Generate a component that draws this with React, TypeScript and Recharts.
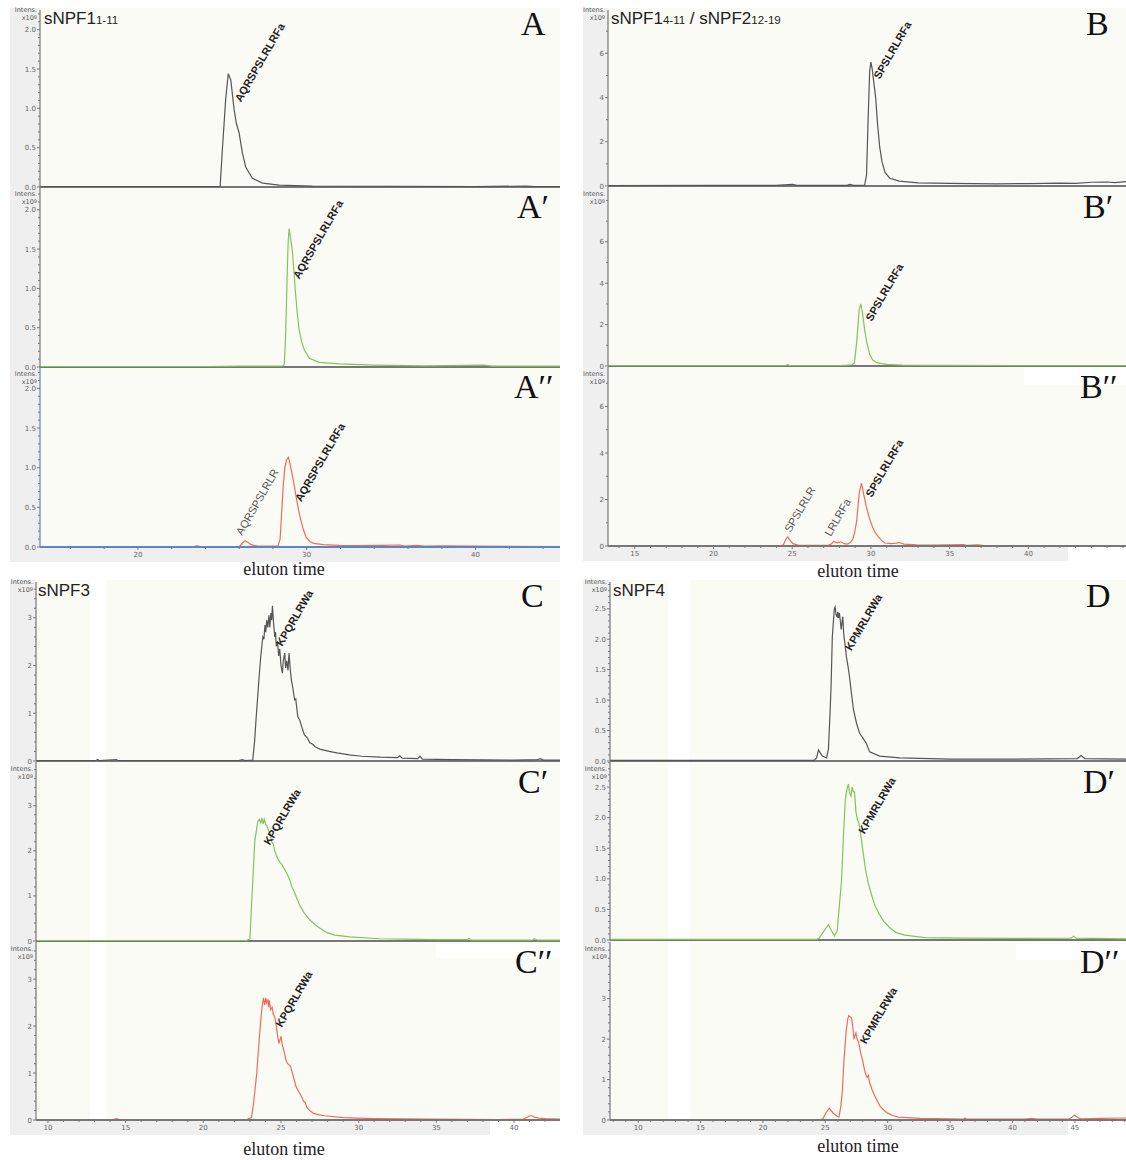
import React from "react";
import { LineChart, Line, XAxis, YAxis, ReferenceLine, ReferenceDot } from "recharts";

type Pt = [number, number];
type Peak = { text: string; t: number; v: number; main: boolean };

// elution time (min) vs intensity (x10^9)
const aTrace: Pt[] = [
  [14.2, 0.004], [20, 0.004], [24.8, 0.004], [24.87, 0.01], [25.0, 0.47], [25.2, 1.12], [25.35, 1.44],
  [25.5, 1.36], [25.7, 0.98], [25.83, 0.81], [25.99, 0.69], [26.19, 0.43], [26.39, 0.25], [26.78, 0.11],
  [27.38, 0.05], [28.37, 0.025], [30.33, 0.012], [35, 0.008], [40, 0.006], [43, 0.012], [43.5, 0.005], [45, 0.005],
];
const aPrimeTrace: Pt[] = [
  [14.2, 0.005], [24, 0.005], [26, 0.01], [28.55, 0.01], [28.67, 0.03], [28.75, 0.4], [28.83, 1.1], [28.9, 1.6],
  [28.96, 1.76], [29.05, 1.62], [29.14, 1.49], [29.23, 1.25], [29.32, 0.98], [29.43, 0.7], [29.55, 0.47],
  [29.7, 0.32], [29.85, 0.22], [30.15, 0.11], [30.74, 0.06], [31.93, 0.04], [34, 0.025], [37, 0.015],
  [40.5, 0.025], [41, 0.012], [45, 0.01],
];
const aDoublePrimeTrace: Pt[] = [
  [14.2, 0.005], [23.3, 0.005], [23.5, 0.015], [23.7, 0.005], [26.0, 0.005], [26.2, 0.05], [26.33, 0.08],
  [26.5, 0.06], [26.7, 0.03], [27.1, 0.01], [28.3, 0.01], [28.42, 0.1], [28.52, 0.45], [28.6, 0.75], [28.7, 1.0],
  [28.8, 1.1], [28.92, 1.13], [29.05, 1.0], [29.2, 0.85], [29.34, 0.67], [29.5, 0.48], [29.66, 0.33], [29.8, 0.22],
  [29.97, 0.12], [30.2, 0.07], [30.4, 0.045], [31.0, 0.03], [31.9, 0.02], [33, 0.018], [34.5, 0.02], [35.5, 0.025],
  [35.8, 0.012], [36.5, 0.02], [37, 0.01], [38, 0.015], [40, 0.01], [45, 0.005],
];

const bTrace: Pt[] = [
  [13.3, 0.02], [20, 0.03], [24, 0.03], [25, 0.07], [25.3, 0.03], [28.5, 0.03], [28.65, 0.07], [28.9, 0.03],
  [29.6, 0.04], [29.72, 0.5], [29.82, 3.0], [29.92, 5.2], [30.0, 5.6], [30.08, 5.3], [30.18, 4.7], [30.3, 4.0],
  [30.42, 2.8], [30.55, 1.8], [30.7, 1.1], [30.9, 0.6], [31.2, 0.35], [31.8, 0.22], [33, 0.14], [35, 0.12],
  [38, 0.1], [40, 0.11], [42, 0.13], [43, 0.12], [44, 0.17], [45, 0.18], [45.5, 0.15], [46.2, 0.2],
];
const bPrimeTrace: Pt[] = [
  [13.3, 0.02], [24.6, 0.02], [24.7, 0.06], [24.85, 0.02], [28.0, 0.02], [28.5, 0.04], [28.8, 0.06], [28.95, 0.15],
  [29.1, 1.2], [29.25, 2.7], [29.35, 3.0], [29.45, 2.65], [29.6, 1.75], [29.75, 1.1], [29.9, 0.6], [30.1, 0.3],
  [30.4, 0.15], [31, 0.08], [32, 0.04], [34, 0.03], [40, 0.02], [46.2, 0.02],
];
const bDoublePrimeTrace: Pt[] = [
  [13.3, 0.02], [24.3, 0.02], [24.44, 0.05], [24.6, 0.3], [24.71, 0.39], [24.85, 0.25], [25.05, 0.1], [25.4, 0.03],
  [27.3, 0.03], [27.5, 0.1], [27.63, 0.2], [27.85, 0.14], [28.08, 0.18], [28.3, 0.1], [28.5, 0.08], [28.7, 0.15],
  [28.85, 0.3], [28.97, 0.6], [29.1, 1.1], [29.26, 2.3], [29.4, 2.7], [29.55, 2.2], [29.7, 1.7], [29.9, 1.2],
  [30.1, 0.82], [30.3, 0.55], [30.47, 0.39], [30.7, 0.22], [30.9, 0.13], [31.3, 0.1], [31.6, 0.12], [31.8, 0.15],
  [32.1, 0.08], [32.9, 0.05], [34, 0.04], [35.85, 0.06], [36.1, 0.03], [36.8, 0.05], [37.2, 0.02], [40, 0.02], [46.2, 0.02],
];

const cTrace: Pt[] = [
  [9.2, 0.01], [13.1, 0.01], [13.2, 0.03], [13.3, 0.01], [14.4, 0.03], [14.5, 0.01], [22.3, 0.01], [22.5, 0.03],
  [22.7, 0.01], [23.18, 0.02], [23.3, 0.4], [23.4, 0.9], [23.5, 1.34], [23.6, 1.8], [23.7, 2.2], [23.83, 2.6],
  [23.9, 2.55], [23.97, 2.85], [24.02, 2.7], [24.08, 2.95], [24.15, 2.8], [24.22, 3.05], [24.28, 2.8], [24.35, 3.1],
  [24.4, 2.95], [24.45, 3.25], [24.52, 2.9], [24.6, 2.6], [24.65, 2.7], [24.7, 2.4], [24.78, 2.5], [24.85, 2.2],
  [24.92, 2.35], [25.0, 2.0], [25.09, 1.84], [25.15, 2.1], [25.24, 2.26], [25.3, 1.95], [25.37, 2.1], [25.45, 1.9],
  [25.52, 2.26], [25.6, 1.9], [25.67, 1.7], [25.75, 1.55], [25.88, 1.28], [25.95, 1.3], [26.08, 0.93], [26.2, 0.86],
  [26.35, 0.7], [26.5, 0.55], [26.7, 0.48], [26.85, 0.38], [27.0, 0.36], [27.2, 0.3], [27.5, 0.25], [28.1, 0.2],
  [28.6, 0.17], [29.4, 0.13], [30.2, 0.1], [31.4, 0.08], [32.5, 0.07], [32.65, 0.11], [32.8, 0.06], [33.8, 0.05],
  [33.95, 0.1], [34.1, 0.04], [36, 0.03], [38, 0.025], [40, 0.02], [41.5, 0.03], [41.7, 0.05], [41.9, 0.02], [43, 0.02],
];
const cPrimeTrace: Pt[] = [
  [9.2, 0.01], [22.8, 0.01], [23.0, 0.05], [23.12, 0.9], [23.31, 2.2], [23.5, 2.64], [23.6, 2.7], [23.7, 2.62],
  [23.76, 2.73], [23.85, 2.6], [23.92, 2.7], [24.02, 2.58], [24.1, 2.55], [24.2, 2.45], [24.28, 2.4], [24.4, 2.2],
  [24.5, 2.15], [24.6, 2.0], [24.75, 1.85], [24.92, 1.75], [25.05, 1.7], [25.24, 1.58], [25.4, 1.48], [25.56, 1.36],
  [25.7, 1.2], [25.88, 1.07], [26.05, 0.92], [26.2, 0.8], [26.5, 0.62], [26.85, 0.47], [27.2, 0.36], [27.49, 0.29],
  [28, 0.18], [28.46, 0.13], [29.42, 0.09], [31.35, 0.05], [33, 0.04], [35, 0.03], [37.0, 0.03], [37.1, 0.06],
  [37.2, 0.02], [41.2, 0.02], [41.3, 0.05], [41.5, 0.02], [43, 0.02],
];
const cDoublePrimeTrace: Pt[] = [
  [9.2, 0.01], [14.2, 0.01], [14.4, 0.03], [14.6, 0.01], [22.8, 0.01], [23.1, 0.05], [23.25, 0.4], [23.44, 1.0],
  [23.55, 1.5], [23.68, 2.06], [23.78, 2.4], [23.87, 2.6], [23.95, 2.45], [24.02, 2.6], [24.08, 2.5], [24.15, 2.55],
  [24.2, 2.4], [24.25, 2.55], [24.33, 2.35], [24.43, 2.4], [24.5, 2.25], [24.6, 2.2], [24.71, 1.97], [24.8, 1.75],
  [24.87, 1.63], [25.0, 1.78], [25.08, 1.6], [25.17, 1.5], [25.3, 1.3], [25.4, 1.21], [25.5, 1.18], [25.62, 1.14],
  [25.8, 0.92], [25.97, 0.71], [26.15, 0.6], [26.32, 0.5], [26.45, 0.4], [26.55, 0.38], [26.65, 0.28], [26.85, 0.2],
  [27.1, 0.14], [27.45, 0.11], [27.8, 0.09], [29, 0.05], [31, 0.03], [34.4, 0.02], [38.95, 0.01], [40.6, 0.02],
  [40.9, 0.07], [41.1, 0.1], [41.3, 0.06], [41.6, 0.04], [42, 0.03], [43, 0.02],
];

const dTrace: Pt[] = [
  [7.74, 0.01], [24.1, 0.01], [24.3, 0.05], [24.45, 0.18], [24.55, 0.15], [24.76, 0.08], [25.1, 0.05], [25.25, 0.2],
  [25.38, 0.8], [25.46, 1.22], [25.56, 2.04], [25.65, 2.3], [25.72, 2.5], [25.78, 2.53], [25.86, 2.4], [25.94, 2.37],
  [26.0, 2.45], [26.05, 2.35], [26.13, 2.43], [26.2, 2.3], [26.27, 2.16], [26.35, 2.3], [26.4, 2.37], [26.47, 2.1],
  [26.53, 1.99], [26.7, 1.7], [26.82, 1.55], [26.94, 1.38], [27.1, 1.1], [27.26, 0.84], [27.5, 0.62], [27.74, 0.46],
  [28.0, 0.38], [28.28, 0.29], [28.55, 0.15], [29.35, 0.08], [30.97, 0.05], [35, 0.03], [40, 0.03], [45.2, 0.04],
  [45.5, 0.09], [45.8, 0.04], [49.1, 0.03],
];
const dPrimeTrace: Pt[] = [
  [7.74, 0.01], [24.3, 0.01], [24.5, 0.03], [24.9, 0.15], [25.24, 0.25], [25.5, 0.15], [25.73, 0.07], [25.95, 0.15],
  [26.1, 0.5], [26.3, 0.98], [26.45, 1.7], [26.6, 2.29], [26.72, 2.45], [26.85, 2.55], [26.95, 2.4], [27.05, 2.35],
  [27.15, 2.5], [27.25, 2.42], [27.34, 2.42], [27.45, 2.1], [27.58, 1.96], [27.7, 1.9], [27.9, 1.63], [28.05, 1.4],
  [28.23, 1.14], [28.45, 0.92], [28.7, 0.74], [29.0, 0.55], [29.35, 0.41], [29.7, 0.3], [30.16, 0.2], [30.7, 0.12],
  [31.37, 0.08], [33, 0.04], [36, 0.03], [40, 0.025], [44.7, 0.03], [44.9, 0.06], [45.1, 0.03], [49.1, 0.02],
];
const dDoublePrimeTrace: Pt[] = [
  [7.74, 0.01], [24.6, 0.01], [24.8, 0.03], [25.05, 0.18], [25.32, 0.29], [25.6, 0.18], [25.9, 0.1], [26.1, 0.08],
  [26.25, 0.35], [26.37, 0.74], [26.5, 1.5], [26.68, 2.23], [26.8, 2.5], [26.88, 2.58], [26.98, 2.55], [27.1, 2.52],
  [27.2, 2.3], [27.3, 2.0], [27.34, 2.06], [27.45, 2.15], [27.55, 2.0], [27.68, 1.91], [27.8, 1.7], [27.97, 1.49],
  [28.1, 1.3], [28.2, 1.16], [28.35, 1.05], [28.45, 1.1], [28.55, 0.92], [28.75, 0.75], [28.98, 0.58], [29.2, 0.45],
  [29.41, 0.33], [29.7, 0.24], [29.99, 0.17], [30.4, 0.11], [30.85, 0.07], [32.6, 0.04], [36.1, 0.02], [36.2, 0.05],
  [36.3, 0.02], [41, 0.02], [41.5, 0.04], [42, 0.02], [44.6, 0.03], [44.97, 0.12], [45.3, 0.05], [45.5, 0.03],
  [47, 0.04], [49.1, 0.05],
];

// peak annotations (text start, in data units)
const aPeaks: Peak[] = [{ text: "AQRSPSLRLRFa", t: 26.1, v: 1.07, main: true }];
const aPrimePeaks: Peak[] = [{ text: "AQRSPSLRLRFa", t: 29.55, v: 1.11, main: true }];
const aDoublePrimePeaks: Peak[] = [
  { text: "AQRSPSLRLR", t: 26.17, v: 0.14, main: false },
  { text: "AQRSPSLRLRFa", t: 29.67, v: 0.56, main: true },
];
const bPeaks: Peak[] = [{ text: "SPSLRLRFa", t: 30.56, v: 4.8, main: true }];
const bPrimePeaks: Peak[] = [{ text: "SPSLRLRFa", t: 30.05, v: 2.13, main: true }];
const bDoublePrimePeaks: Peak[] = [
  { text: "SPSLRLR", t: 24.9, v: 0.56, main: false },
  { text: "LRLRFa", t: 27.45, v: 0.39, main: false },
  { text: "SPSLRLRFa", t: 30.05, v: 2.07, main: true },
];
const cPeaks: Peak[] = [{ text: "KPQRLRWa", t: 25.09, v: 2.39, main: true }];
const cPrimePeaks: Peak[] = [{ text: "KPQRLRWa", t: 24.28, v: 2.11, main: true }];
const cDoublePrimePeaks: Peak[] = [{ text: "KPQRLRWa", t: 25.05, v: 1.96, main: true }];
const dPeaks: Peak[] = [{ text: "KPMRLRWa", t: 27.07, v: 1.8, main: true }];
const dPrimePeaks: Peak[] = [{ text: "KPMRLRWa", t: 28.15, v: 1.72, main: true }];
const dDoublePrimePeaks: Peak[] = [{ text: "KPMRLRWa", t: 28.26, v: 1.86, main: true }];

// axis tick labels
const xMajorA = [20, 30, 40];
const xMajorB = [15, 20, 25, 30, 35, 40];
const xMajorC = [10, 15, 20, 25, 30, 35, 40];
const xMajorD = [10, 15, 20, 25, 30, 35, 40, 45];
const yMajorA = [0, 0.5, 1, 1.5, 2];
const yMajorB = [0, 2, 4, 6];
const yMajorC = [0, 1, 2, 3];
const yMajorD = [0, 0.5, 1, 1.5, 2, 2.5];

const GRAY_TRACE = "#555555";
const GREEN = "#86c25a";
const RED = "#ef6b5e";
const AXIS = "#777777";
const TICK_FONT = "DejaVu Sans, Verdana, sans-serif";

type RowCfg = {
  trace: Pt[];
  peaks: Peak[];
  color: string;
  yMax: number;
  yMajor: number[];
  yStep: number;
  digits: number;
  letter: string;
  letterX: number;
  top: number;
  base: number;
  axisColor?: string;
};

type GroupCfg = {
  gray: number;
  axis: number;
  right: number;
  top: number;
  stripEnd: number;
  xMin: number;
  xMax: number;
  xMajor: number[];
  xStep: number;
  title: React.ReactNode;
  titleX: number;
  titleY: number;
  xlabelX: number;
  xlabelY: number;
  whiteStrip?: [number, number];
  whiteBoxes: [number, number, number, number][];
  rows: RowCfg[];
};

function range(from: number, to: number, step: number) {
  const out: number[] = [];
  for (let k = Math.ceil(from / step - 1e-9); k * step <= to + 1e-9; k++) {
    out.push(Math.round(k * step * 1000) / 1000);
  }
  return out;
}

const isIn = (list: number[], v: number) => list.some((m) => Math.abs(m - v) < 1e-6);

const yTick = (majors: number[], digits: number) => (p: any) => {
  const v = p.payload.value;
  const major = isIn(majors, v);
  return (
    <g>
      <line x1={p.x - (major ? 3 : 2)} x2={p.x} y1={p.y} y2={p.y} stroke="#777" strokeWidth={1} />
      {major && (
        <text x={p.x - 4} y={p.y + 2.5} textAnchor="end" fontSize={7} fill="#666" fontFamily={TICK_FONT}>
          {v.toFixed(digits)}
        </text>
      )}
    </g>
  );
};

const xTick = (majors: number[]) => (p: any) => {
  const v = p.payload.value;
  const major = isIn(majors, v);
  return (
    <g>
      <line x1={p.x} x2={p.x} y1={p.y} y2={p.y + (major ? 3 : 2)} stroke="#777" strokeWidth={1} />
      {major && (
        <text x={p.x} y={p.y + 10} textAnchor="middle" fontSize={7} fill="#666" fontFamily={TICK_FONT}>
          {v}
        </text>
      )}
    </g>
  );
};

const peakShape = (pk: Peak) => (props: any) => {
  const { cx, cy } = props;
  if (cx == null || cy == null) return <g />;
  return (
    <text
      x={cx}
      y={cy}
      transform={`rotate(-60 ${cx} ${cy})`}
      fontSize={11}
      fontWeight={pk.main ? 700 : 400}
      fill={pk.main ? "#1e1e1e" : "#555"}
      fontFamily="Liberation Sans, Arial, sans-serif"
    >
      {pk.text}
    </text>
  );
};

function Row({ g, r, bottom }: { g: GroupCfg; r: RowCfg; bottom: boolean }) {
  const xAxisH = bottom ? 14 : 0;
  const extra = bottom ? 0 : 5;
  const axisColor = r.axisColor || AXIS;
  const data = r.trace.map(([t, v]) => ({ t, v }));
  return (
    <div style={{ position: "absolute", left: g.gray, top: r.top }}>
      <LineChart
        width={g.right - g.gray}
        height={r.base - r.top + xAxisH + extra}
        data={data}
        margin={{ top: 0, right: 0, bottom: extra, left: 0 }}
      >
        <XAxis
          type="number"
          dataKey="t"
          domain={[g.xMin, g.xMax]}
          allowDataOverflow
          hide={!bottom}
          height={xAxisH}
          ticks={range(g.xMin, g.xMax, g.xStep)}
          interval={0}
          tickSize={0}
          tickMargin={0}
          tickLine={false}
          axisLine={{ stroke: axisColor, strokeWidth: 2 }}
          tick={xTick(g.xMajor)}
        />
        <YAxis
          type="number"
          domain={[0, r.yMax]}
          allowDataOverflow
          width={g.axis - g.gray}
          ticks={range(0, r.yMax, r.yStep)}
          interval={0}
          tickSize={0}
          tickMargin={0}
          tickLine={false}
          axisLine={{ stroke: axisColor, strokeWidth: 1.2 }}
          tick={yTick(r.yMajor, r.digits)}
        />
        <ReferenceLine y={0} stroke={axisColor} strokeWidth={2} />
        <Line
          type="linear"
          dataKey="v"
          stroke={r.color}
          strokeWidth={1.2}
          dot={false}
          isAnimationActive={false}
        />
        {r.peaks.map((pk, i) => (
          <ReferenceDot key={i} x={pk.t} y={pk.v} r={0} ifOverflow="visible" shape={peakShape(pk)} />
        ))}
      </LineChart>
    </div>
  );
}

const small = { fontSize: 11.5 };

const groups: GroupCfg[] = [
  {
    gray: 10, axis: 40, right: 560, top: 8, stripEnd: 560,
    xMin: 14.2, xMax: 45.0, xMajor: xMajorA, xStep: 2,
    title: <>sNPF1<span style={small}>1-11</span></>, titleX: 44, titleY: 11,
    xlabelX: 284, xlabelY: 560, whiteBoxes: [],
    rows: [
      { trace: aTrace, peaks: aPeaks, color: GRAY_TRACE, yMax: 2.25, yMajor: yMajorA, yStep: 0.1, digits: 1, letter: "A", letterX: 521, top: 10, base: 187 },
      { trace: aPrimeTrace, peaks: aPrimePeaks, color: GREEN, yMax: 2.29, yMajor: yMajorA, yStep: 0.1, digits: 1, letter: "A\u2032", letterX: 517, top: 187, base: 367 },
      { trace: aDoublePrimeTrace, peaks: aDoublePrimePeaks, color: RED, yMax: 2.27, yMajor: yMajorA, yStep: 0.1, digits: 1, letter: "A\u2032\u2032", letterX: 514, top: 367, base: 547, axisColor: "#5a86c5" },
    ],
  },
  {
    gray: 583, axis: 608, right: 1126, top: 8, stripEnd: 1068,
    xMin: 13.3, xMax: 46.2, xMajor: xMajorB, xStep: 1,
    title: <>sNPF1<span style={small}>4-11</span> / sNPF2<span style={small}>12-19</span></>, titleX: 611, titleY: 11,
    xlabelX: 858, xlabelY: 562, whiteBoxes: [[1024, 368, 102, 17]],
    rows: [
      { trace: bTrace, peaks: bPeaks, color: GRAY_TRACE, yMax: 7.96, yMajor: yMajorB, yStep: 1, digits: 0, letter: "B", letterX: 1086, top: 10, base: 186 },
      { trace: bPrimeTrace, peaks: bPrimePeaks, color: GREEN, yMax: 8.65, yMajor: yMajorB, yStep: 1, digits: 0, letter: "B\u2032", letterX: 1083, top: 187, base: 366 },
      { trace: bDoublePrimeTrace, peaks: bDoublePrimePeaks, color: RED, yMax: 7.7, yMajor: yMajorB, yStep: 1, digits: 0, letter: "B\u2032\u2032", letterX: 1080, top: 367, base: 546 },
    ],
  },
  {
    gray: 10, axis: 36, right: 560, top: 580, stripEnd: 490,
    xMin: 9.23, xMax: 42.96, xMajor: xMajorC, xStep: 1,
    title: <>sNPF3</>, titleX: 38, titleY: 583,
    xlabelX: 284, xlabelY: 1140, whiteStrip: [90, 106], whiteBoxes: [[436, 944, 124, 14]],
    rows: [
      { trace: cTrace, peaks: cPeaks, color: GRAY_TRACE, yMax: 3.75, yMajor: yMajorC, yStep: 0.2, digits: 0, letter: "C", letterX: 521, top: 582, base: 761 },
      { trace: cPrimeTrace, peaks: cPrimePeaks, color: GREEN, yMax: 3.97, yMajor: yMajorC, yStep: 0.2, digits: 0, letter: "C\u2032", letterX: 518, top: 762, base: 941 },
      { trace: cDoublePrimeTrace, peaks: cDoublePrimePeaks, color: RED, yMax: 3.79, yMajor: yMajorC, yStep: 0.2, digits: 0, letter: "C\u2032\u2032", letterX: 515, top: 942, base: 1120 },
    ],
  },
  {
    gray: 583, axis: 610, right: 1126, top: 580, stripEnd: 1068,
    xMin: 7.74, xMax: 49.1, xMajor: xMajorD, xStep: 1,
    title: <>sNPF4</>, titleX: 613, titleY: 583,
    xlabelX: 858, xlabelY: 1137, whiteStrip: [668, 690], whiteBoxes: [[1016, 944, 110, 16]],
    rows: [
      { trace: dTrace, peaks: dPeaks, color: GRAY_TRACE, yMax: 2.94, yMajor: yMajorD, yStep: 0.1, digits: 1, letter: "D", letterX: 1086, top: 582, base: 761 },
      { trace: dPrimeTrace, peaks: dPrimePeaks, color: GREEN, yMax: 2.91, yMajor: yMajorD, yStep: 0.1, digits: 1, letter: "D\u2032", letterX: 1083, top: 762, base: 940 },
      { trace: dDoublePrimeTrace, peaks: dDoublePrimePeaks, color: RED, yMax: 4.4, yMajor: yMajorC, yStep: 0.2, digits: 0, letter: "D\u2032\u2032", letterX: 1080, top: 942, base: 1120 },
    ],
  },
];

function Group({ g }: { g: GroupCfg }) {
  const last = g.rows[g.rows.length - 1];
  const abs = (l: number, t: number, w: number, h: number, bg: string) => (
    <div style={{ position: "absolute", left: l, top: t, width: w, height: h, background: bg }} />
  );
  return (
    <>
      {abs(g.gray, g.top, g.axis - g.gray, last.base + 15 - g.top, "#efefef")}
      {abs(g.gray, last.base, g.stripEnd - g.gray, 15, "#efefef")}
      {abs(g.axis, g.top, g.right - g.axis, last.base - g.top, "#fbfbf6")}
      {g.whiteStrip && abs(g.whiteStrip[0], g.top, g.whiteStrip[1] - g.whiteStrip[0], last.base - g.top, "#fff")}
      {g.whiteBoxes.map((b, i) => (
        <React.Fragment key={i}>{abs(b[0], b[1], b[2], b[3], "#fff")}</React.Fragment>
      ))}
      {g.rows.map((r, i) => (
        <Row key={i} g={g} r={r} bottom={i === g.rows.length - 1} />
      ))}
      {g.rows.map((r, i) => (
        <div
          key={"in" + i}
          style={{
            position: "absolute", left: g.gray, top: i === 0 ? r.top - 3 : r.top + 4, width: g.axis - g.gray - 3,
            textAlign: "right", fontSize: 6.5, lineHeight: "7.5px", color: "#555", fontFamily: TICK_FONT,
          }}
        >
          Intens.
          <br />
          x10<sup style={{ fontSize: 5, verticalAlign: "top", lineHeight: "5px" }}>9</sup>
        </div>
      ))}
      {g.rows.map((r, i) => (
        <div
          key={"lt" + i}
          style={{
            position: "absolute", left: r.letterX, top: (i === 0 ? r.top + 3 : r.top + 9) - 6,
            fontFamily: "Liberation Serif, Times New Roman, serif", fontSize: 34, lineHeight: "34px", color: "#111",
          }}
        >
          {r.letter}
        </div>
      ))}
      <div
        style={{
          position: "absolute", left: g.titleX, top: g.titleY, fontSize: 17, lineHeight: "16px",
          color: "#222", fontFamily: "Liberation Sans, Arial, sans-serif", whiteSpace: "nowrap",
        }}
      >
        {g.title}
      </div>
      <div
        style={{
          position: "absolute", left: g.xlabelX - 70, width: 140, top: g.xlabelY, textAlign: "center",
          fontFamily: "Liberation Serif, Times New Roman, serif", fontSize: 18, lineHeight: "18px", color: "#222",
        }}
      >
        eluton time
      </div>
    </>
  );
}

export default function App() {
  return (
    <div
      style={{
        position: "absolute", left: 0, top: 0, width: 1126, height: 1160, background: "#fff",
        overflow: "hidden", fontFamily: "Liberation Sans, Arial, sans-serif",
      }}
    >
      {groups.map((g, i) => (
        <Group key={i} g={g} />
      ))}
    </div>
  );
}
